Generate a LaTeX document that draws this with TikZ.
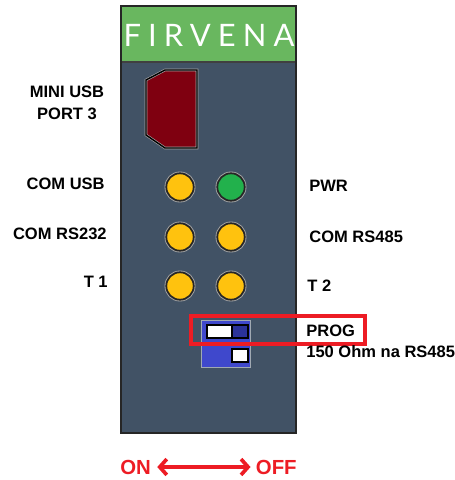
\documentclass[tikz,border=0pt]{standalone}
\usepackage{fontspec}
\usepackage{xcolor}
\setmainfont{Liberation Sans}
\newfontfamily\logofont[LetterSpace=23]{Lato}
\usetikzlibrary{arrows.meta}
\definecolor{firvenagreen}{HTML}{69B75F}
\definecolor{firvenaslate}{HTML}{415265}
\definecolor{portred}{HTML}{7F0010}
\definecolor{ledyellow}{HTML}{FFC20E}
\definecolor{ledgreen}{HTML}{22B14C}
\definecolor{dipblue}{HTML}{3F48CC}
\definecolor{dipdark}{HTML}{2B3299}
\definecolor{markred}{HTML}{ED1C24}
\tikzset{
  lbl/.style={font=\fontsize{9.4pt}{11pt}\selectfont\bfseries, black, inner sep=0pt},
  redlbl/.style={font=\fontsize{11.6pt}{13pt}\selectfont\bfseries, markred, inner sep=0pt},
  led/.style={circle, draw=black!85, line width=1pt, minimum size=15.6pt, inner sep=0pt,
    preaction={draw=white!65!black, line width=2pt}},
  halo/.style={draw=white!65!black, line width=1.5pt},
  slot/.style={draw=black, line width=1.1pt},
}
\begin{document}
\begin{tikzpicture}[x=0.02cm, y=-0.02cm]
  \useasboundingbox (0,0) rectangle (455,480);
  % front panel
  \fill[firvenaslate] (121,6) rectangle (296,433);
  \fill[firvenagreen] (121,6) rectangle (296,62);
  \draw[black!75, line width=0.7pt] (121,62) -- (296,62);
  \draw[black!85, line width=1.1pt] (121,6) rectangle (296,433);
  \node[font=\logofont\fontsize{17.6pt}{20pt}\selectfont, white, inner sep=0pt] (logo) at (209,35) {FIRVENA};
  % usb port
  \draw[halo, fill=portred] (146,80) -- (165,70) -- (197,70) -- (197,148) -- (165,148) -- (146,135) -- cycle;
  \draw[black, line width=0.8pt] (146,80) -- (165,70) -- (197,70) -- (197,148) -- (165,148) -- (146,135) -- cycle;
  % leds
  \foreach \name/\x/\y/\col in {usb/180/187/ledyellow, pwr/231/187/ledgreen,
      rstwo/180/237/ledyellow, rsfour/231/237/ledyellow,
      tone/180/286/ledyellow, ttwo/231/286/ledyellow}{
    \node[led, fill=\col] (\name) at (\x,\y) {};
  }
  % dip switch
  \draw[white!50!firvenaslate, line width=0.5pt, fill=dipblue] (201,320) rectangle (250,367);
  \draw[slot, fill=dipdark] (207,325) rectangle (248,338);
  \draw[slot, fill=white] (207,325) rectangle (232,338);
  \draw[slot, fill=white] (232,349) rectangle (248,362);
  \draw[markred, line width=2pt] (191,316) rectangle (365,344);
  % labels
  \node[lbl, align=center] (mini) at (67,103) {MINI USB\\[1.2pt]PORT 3};
  \node[lbl, anchor=east] (comusb) at (105,184) {COM USB};
  \node[lbl, anchor=east] (comtwo) at (107,234) {COM RS232};
  \node[lbl, anchor=east] (tonelbl) at (108,282) {T 1};
  \node[lbl, anchor=west] (pwrlbl) at (309,186) {PWR};
  \node[lbl, anchor=west] (comfour) at (309,237) {COM RS485};
  \node[lbl, anchor=west] (ttwolbl) at (307,286) {T 2};
  \node[lbl, anchor=west] (prog) at (306,331) {PROG};
  \node[lbl, anchor=west] (ohm) at (306,352) {150 Ohm na RS485};
  % on off
  \node[redlbl, anchor=west] (on) at (120,467) {ON};
  \node[redlbl, anchor=east] (off) at (297,467) {OFF};
  \draw[markred, line width=2.1pt, {Straight Barb[length=4pt, width=9pt]}-{Straight Barb[length=4pt, width=9pt]},
    shorten <=0.12cm, shorten >=0.1cm] (on.east) -- (off.west);
\end{tikzpicture}
\end{document}
